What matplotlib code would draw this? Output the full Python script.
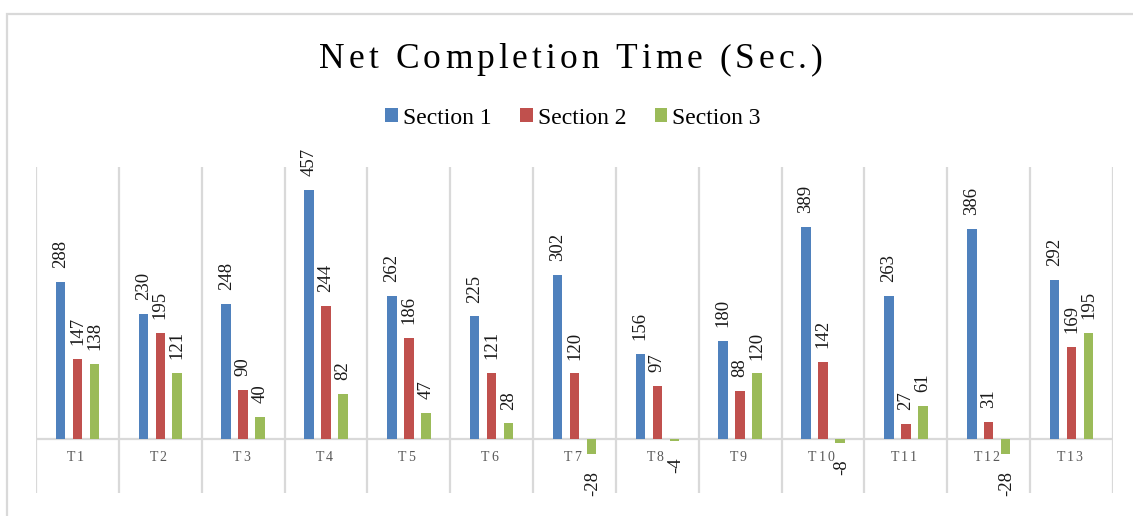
import numpy as np
import matplotlib
matplotlib.use("Agg")
import matplotlib.pyplot as plt
from matplotlib.patches import Patch, Rectangle
from matplotlib.transforms import IdentityTransform

plt.rcParams['font.family'] = ['Liberation Serif', 'DejaVu Serif']

# data
trials = ['T1', 'T2', 'T3', 'T4', 'T5', 'T6', 'T7', 'T8', 'T9', 'T10', 'T11', 'T12', 'T13']
section1 = [288, 230, 248, 457, 262, 225, 302, 156, 180, 389, 263, 386, 292]
section2 = [147, 195, 90, 244, 186, 121, 120, 97, 88, 142, 27, 31, 169]
section3 = [138, 121, 40, 82, 47, 28, -28, -4, 120, -8, 61, -28, 195]
series_names = ['Section 1', 'Section 2', 'Section 3']
colors = ['#4F81BD', '#C0504D', '#9BBB59']

W, H = 1133, 516
fig = plt.figure(figsize=(W / 100, H / 100), dpi=100)
ax = fig.add_axes([36 / W, 1 - 493 / H, (1113 - 36) / W, (493 - 167) / H])

x = np.arange(len(trials))
offsets = [-0.205, 0, 0.205]
width = 0.115
for vals, off, col in zip([section1, section2, section3], offsets, colors):
    ax.bar(x + off, vals, width, color=col, zorder=3)
    for xi, v in zip(x + off, vals):
        if v >= 0:
            ax.annotate(str(v), (xi, v), xytext=(0, 10), textcoords='offset points',
                        rotation=90, ha='center', va='bottom', fontsize=13.5, color='#1a1a1a')
        else:
            ax.annotate(str(v), (xi, v), xytext=(1, -12), textcoords='offset points',
                        rotation=90, ha='center', va='top', fontsize=13.5, color='#1a1a1a',
                        annotation_clip=False)

ax.set_xlim(-0.5, len(trials) - 0.5)
ax.set_ylim(-100, 500)
for s in ax.spines.values():
    s.set_visible(False)
ax.set_xticks([])
ax.set_yticks([])
ax.axhline(0, color='#d9d9d9', lw=1.6, zorder=2)
for b in np.arange(-0.5, len(trials)):
    ax.axvline(b, color='#d9d9d9', lw=1.6, zorder=1)

# chart frame
fig.add_artist(Rectangle((7 / W, -0.2), 1.5, 1 - 14 / H + 0.2, fill=False,
                         edgecolor='#d9d9d9', lw=1.6, transform=fig.transFigure))


def spaced_text(cx, cy, s, gap, **kw):
    # letter-spaced text, placed in pixel coords
    r = fig.canvas.get_renderer()
    ws = []
    for ch in s:
        if ch == ' ':
            ws.append(kw['fontsize'] * 0.25 * fig.dpi / 72)
            continue
        t = fig.text(0, 0, ch, **kw)
        ws.append(t.get_window_extent(r).width)
        t.remove()
    total = sum(ws) + gap * (len(s) - 1)
    xp = cx - total / 2
    for ch, w in zip(s, ws):
        fig.text(xp, cy, ch, transform=IdentityTransform(), ha='left', va='baseline', **kw)
        xp += w + gap


spaced_text(571, H - 68, 'Net Completion Time (Sec.)', 4, fontsize=25.5, color='#000000')

# category labels sit just under the zero line
for i, lab in enumerate(trials):
    px, py = ax.transData.transform((i, 0))
    spaced_text(px - 2, py - 22, lab, 1.8, fontsize=10, color='#595959')

handles = [Patch(facecolor=c, edgecolor='none') for c in colors]
fig.legend(handles, series_names, loc='center', bbox_to_anchor=(573 / W, 1 - 118 / H),
           ncol=3, frameon=False, fontsize=17, handlelength=0.55, handleheight=0.55,
           handletextpad=0.2, columnspacing=1.2)

fig.savefig('out.png', dpi=100)
